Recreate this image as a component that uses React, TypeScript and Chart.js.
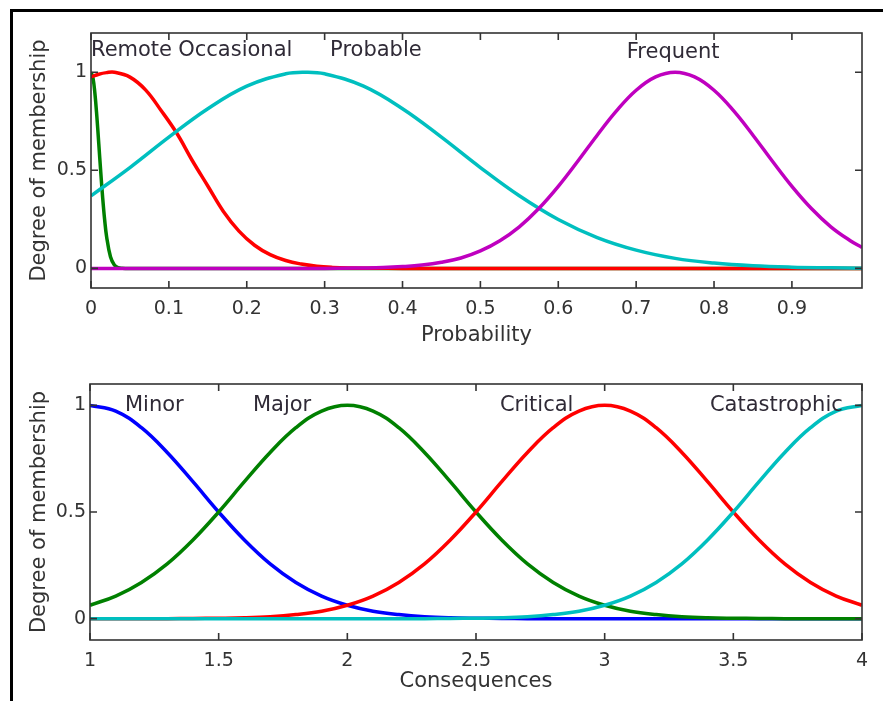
import React, { useEffect, useRef } from "react";
import { Chart, registerables } from "chart.js";

Chart.register(...registerables);

const FONT_FAMILY = "'DejaVu Sans', 'Liberation Sans', sans-serif";
const INK = "#333333";
const NAME_INK = "#2f2a36";

// ---- Probability panel: membership functions ----
const remoteX = [0, 0.0025, 0.005, 0.0075, 0.01, 0.0125, 0.015, 0.0175, 0.02, 0.025, 0.03, 0.035, 0.04, 0.05, 0.99];
const remoteY = [1, 0.972, 0.893, 0.775, 0.635, 0.492, 0.36, 0.249, 0.163, 0.059, 0.017, 0.004, 0.001, 0, 0];

const occasionalX = [0, 0.01, 0.02, 0.03, 0.05, 0.07, 0.09, 0.11, 0.13, 0.15, 0.17, 0.19, 0.21, 0.23, 0.25, 0.27, 0.29, 0.31, 0.33, 0.36, 0.4, 0.99];
const occasionalY = [0.976, 0.99, 0.998, 1, 0.975, 0.91, 0.805, 0.69, 0.55, 0.42, 0.29, 0.19, 0.118, 0.07, 0.04, 0.022, 0.011, 0.005, 0.002, 0.001, 0, 0];

const probableX = [0, 0.05, 0.1, 0.15, 0.2, 0.25, 0.275, 0.3, 0.35, 0.4, 0.45, 0.5, 0.55, 0.6, 0.65, 0.7, 0.75, 0.8, 0.85, 0.9, 0.95, 0.99];
const probableY = [0.37, 0.514, 0.669, 0.814, 0.929, 0.992, 1, 0.992, 0.929, 0.814, 0.669, 0.514, 0.37, 0.249, 0.157, 0.093, 0.051, 0.027, 0.013, 0.006, 0.003, 0.001];

const frequentX = [0, 0.3, 0.35, 0.375, 0.4, 0.425, 0.45, 0.475, 0.5, 0.525, 0.55, 0.575, 0.6, 0.625, 0.65, 0.675, 0.7, 0.725, 0.75, 0.775, 0.8, 0.825, 0.85, 0.875, 0.9, 0.925, 0.95, 0.975, 0.99];
const frequentY = [0, 0, 0.002, 0.004, 0.009, 0.017, 0.031, 0.053, 0.089, 0.141, 0.212, 0.305, 0.418, 0.546, 0.679, 0.804, 0.908, 0.976, 1, 0.976, 0.908, 0.804, 0.679, 0.546, 0.418, 0.305, 0.212, 0.141, 0.107];

const probabilityTicks = [0, 0.1, 0.2, 0.3, 0.4, 0.5, 0.6, 0.7, 0.8, 0.9];
const membershipTicks = [0, 0.5, 1];

const probabilityNames = ["Remote", "Occasional", "Probable", "Frequent"];
const probabilityNameX = [0, 0.112, 0.307, 0.688];
const probabilityNameY = [1.11, 1.11, 1.11, 1.1];

// ---- Consequences panel: membership functions ----
const consequenceX = [1, 1.1, 1.2, 1.3, 1.4, 1.5, 1.6, 1.7, 1.8, 1.9, 2, 2.1, 2.2, 2.3, 2.4, 2.5, 2.6, 2.7, 2.8, 2.9, 3, 3.1, 3.2, 3.3, 3.4, 3.5, 3.6, 3.7, 3.8, 3.9, 4];
const minorY = [1, 0.973, 0.895, 0.779, 0.642, 0.5, 0.369, 0.257, 0.17, 0.106, 0.063, 0.035, 0.019, 0.009, 0.004, 0.002, 0.001, 0, 0, 0, 0, 0, 0, 0, 0, 0, 0, 0, 0, 0, 0];
const majorY = [0.063, 0.106, 0.17, 0.257, 0.369, 0.5, 0.642, 0.779, 0.895, 0.973, 1, 0.973, 0.895, 0.779, 0.642, 0.5, 0.369, 0.257, 0.17, 0.106, 0.063, 0.035, 0.019, 0.009, 0.004, 0.002, 0.001, 0, 0, 0, 0];
const criticalY = [0, 0, 0, 0, 0.001, 0.002, 0.004, 0.009, 0.019, 0.035, 0.063, 0.106, 0.17, 0.257, 0.369, 0.5, 0.642, 0.779, 0.895, 0.973, 1, 0.973, 0.895, 0.779, 0.642, 0.5, 0.369, 0.257, 0.17, 0.106, 0.063];
const catastrophicY = [0, 0, 0, 0, 0, 0, 0, 0, 0, 0, 0, 0, 0, 0, 0.001, 0.002, 0.004, 0.009, 0.019, 0.035, 0.063, 0.106, 0.17, 0.257, 0.369, 0.5, 0.642, 0.779, 0.895, 0.973, 1];

const consequenceTicks = [1, 1.5, 2, 2.5, 3, 3.5, 4];

const consequenceNames = ["Minor", "Major", "Critical", "Catastrophic"];
const consequenceNameX = [1.136, 1.633, 2.593, 3.409];
const consequenceNameY = [1.0, 1.0, 1.0, 1.0];

// MATLAB-style line colours
const BLUE = "#0000ff";
const GREEN = "#008000";
const RED = "#ff0000";
const CYAN = "#00bfbf";
const MAGENTA = "#bf00bf";

const toPoints = (xs: number[], ys: number[]) => xs.map((x, i) => ({ x, y: ys[i] }));
const fmt = (v: number) => String(Number(Number(v).toFixed(2)));

// Axes box with inward tick marks on all four sides
const boxPlugin = {
  id: "axesBox",
  afterDatasetsDraw(chart: any) {
    const { ctx, chartArea: a, scales } = chart;
    ctx.save();
    ctx.strokeStyle = INK;
    ctx.lineWidth = 1.6;
    ctx.strokeRect(a.left, a.top, a.right - a.left, a.bottom - a.top);
    const len = 7;
    ctx.beginPath();
    for (const t of scales.x.ticks) {
      const px = scales.x.getPixelForValue(t.value);
      ctx.moveTo(px, a.bottom);
      ctx.lineTo(px, a.bottom - len);
      ctx.moveTo(px, a.top);
      ctx.lineTo(px, a.top + len);
    }
    for (const t of scales.y.ticks) {
      const py = scales.y.getPixelForValue(t.value);
      ctx.moveTo(a.left, py);
      ctx.lineTo(a.left + len, py);
      ctx.moveTo(a.right, py);
      ctx.lineTo(a.right - len, py);
    }
    ctx.stroke();
    ctx.restore();
  },
};

// Names of the membership functions, placed in data coordinates
const namesPlugin = {
  id: "curveNames",
  afterDraw(chart: any, _args: any, opts: any) {
    const { ctx, scales } = chart;
    const texts: string[] = opts.texts || [];
    ctx.save();
    ctx.fillStyle = NAME_INK;
    ctx.font = `21px ${FONT_FAMILY}`;
    ctx.textAlign = "left";
    ctx.textBaseline = "middle";
    texts.forEach((t, i) => {
      ctx.fillText(t, scales.x.getPixelForValue(opts.xs[i]), scales.y.getPixelForValue(opts.ys[i]));
    });
    ctx.restore();
  },
};

interface PanelSpec {
  datasets: any[];
  xMin: number;
  xMax: number;
  yMin: number;
  yMax: number;
  xTicks: number[];
  yTicks: number[];
  xTitle: string;
  yAxisWidth: number;
  xAxisHeight: number;
  padding: { top: number; right: number; bottom: number; left: number };
  names: string[];
  nameX: number[];
  nameY: number[];
}

function buildConfig(p: PanelSpec): any {
  const tickFont = { family: FONT_FAMILY, size: 19 };
  const titleFont = { family: FONT_FAMILY, size: 21 };
  return {
    type: "line",
    data: { datasets: p.datasets },
    options: {
      responsive: false,
      animation: false,
      events: [],
      layout: { padding: p.padding, autoPadding: false },
      elements: {
        point: { radius: 0 },
        line: { borderWidth: 3.5, tension: 0.4 },
      },
      plugins: {
        legend: { display: false },
        tooltip: { enabled: false },
        curveNames: { texts: p.names, xs: p.nameX, ys: p.nameY },
      },
      scales: {
        x: {
          type: "linear",
          min: p.xMin,
          max: p.xMax,
          grid: { display: false, drawTicks: false },
          border: { display: false },
          afterBuildTicks: (s: any) => {
            s.ticks = p.xTicks.map((v) => ({ value: v }));
          },
          afterFit: (s: any) => {
            s.height = p.xAxisHeight;
          },
          ticks: {
            padding: 10,
            font: tickFont,
            color: INK,
            maxRotation: 0,
            autoSkip: false,
            callback: (v: number) => fmt(v),
          },
          title: { display: true, text: p.xTitle, font: titleFont, color: INK, padding: 0 },
        },
        y: {
          type: "linear",
          min: p.yMin,
          max: p.yMax,
          grid: { display: false, drawTicks: false },
          border: { display: false },
          afterBuildTicks: (s: any) => {
            s.ticks = p.yTicks.map((v) => ({ value: v }));
          },
          afterFit: (s: any) => {
            s.width = p.yAxisWidth;
          },
          ticks: {
            padding: 4,
            font: tickFont,
            color: INK,
            autoSkip: false,
            callback: (v: number) => fmt(v),
          },
          title: {
            display: true,
            text: "Degree of membership",
            font: titleFont,
            color: INK,
            padding: { top: 27, bottom: 0 },
          },
        },
      },
    },
    plugins: [boxPlugin, namesPlugin],
  };
}

const line = (label: string, xs: number[], ys: number[], color: string, order: number) => ({
  label,
  data: toPoints(xs, ys),
  borderColor: color,
  backgroundColor: color,
  fill: false,
  order,
});

function useChart(ref: React.RefObject<HTMLCanvasElement | null>, make: () => any) {
  useEffect(() => {
    if (!ref.current) return;
    const chart = new Chart(ref.current, make());
    return () => chart.destroy();
  }, []);
}

export default function App() {
  const probabilityRef = useRef<HTMLCanvasElement>(null);
  const consequenceRef = useRef<HTMLCanvasElement>(null);

  useChart(probabilityRef, () =>
    buildConfig({
      datasets: [
        line("Remote", remoteX, remoteY, GREEN, 3),
        line("Occasional", occasionalX, occasionalY, RED, 2),
        line("Probable", probableX, probableY, CYAN, 1),
        line("Frequent", frequentX, frequentY, MAGENTA, 0),
      ],
      xMin: 0,
      xMax: 0.99,
      yMin: -0.1,
      yMax: 1.2,
      xTicks: probabilityTicks,
      yTicks: membershipTicks,
      xTitle: "Probability",
      yAxisWidth: 91,
      xAxisHeight: 60,
      padding: { top: 33, right: 21, bottom: 2, left: 0 },
      names: probabilityNames,
      nameX: probabilityNameX,
      nameY: probabilityNameY,
    })
  );

  useChart(consequenceRef, () =>
    buildConfig({
      datasets: [
        line("Minor", consequenceX, minorY, BLUE, 3),
        line("Major", consequenceX, majorY, GREEN, 2),
        line("Critical", consequenceX, criticalY, RED, 1),
        line("Catastrophic", consequenceX, catastrophicY, CYAN, 0),
      ],
      xMin: 1,
      xMax: 4,
      yMin: -0.1,
      yMax: 1.1,
      xTicks: consequenceTicks,
      yTicks: membershipTicks,
      xTitle: "Consequences",
      yAxisWidth: 90,
      xAxisHeight: 54,
      padding: { top: 34, right: 21, bottom: 7, left: 0 },
      names: consequenceNames,
      nameX: consequenceNameX,
      nameY: consequenceNameY,
    })
  );

  return (
    <div
      style={{
        position: "absolute",
        left: 0,
        top: 0,
        width: 883,
        height: 701,
        background: "#ffffff",
        overflow: "hidden",
      }}
    >
      <div
        style={{
          position: "absolute",
          left: 10,
          top: 9,
          width: 900,
          height: 720,
          borderTop: "3px solid #000",
          borderLeft: "3px solid #000",
        }}
      />
      <canvas
        ref={probabilityRef}
        width={883}
        height={350}
        style={{ position: "absolute", left: 0, top: 0, width: 883, height: 350 }}
      />
      <canvas
        ref={consequenceRef}
        width={883}
        height={351}
        style={{ position: "absolute", left: 0, top: 350, width: 883, height: 351 }}
      />
    </div>
  );
}
